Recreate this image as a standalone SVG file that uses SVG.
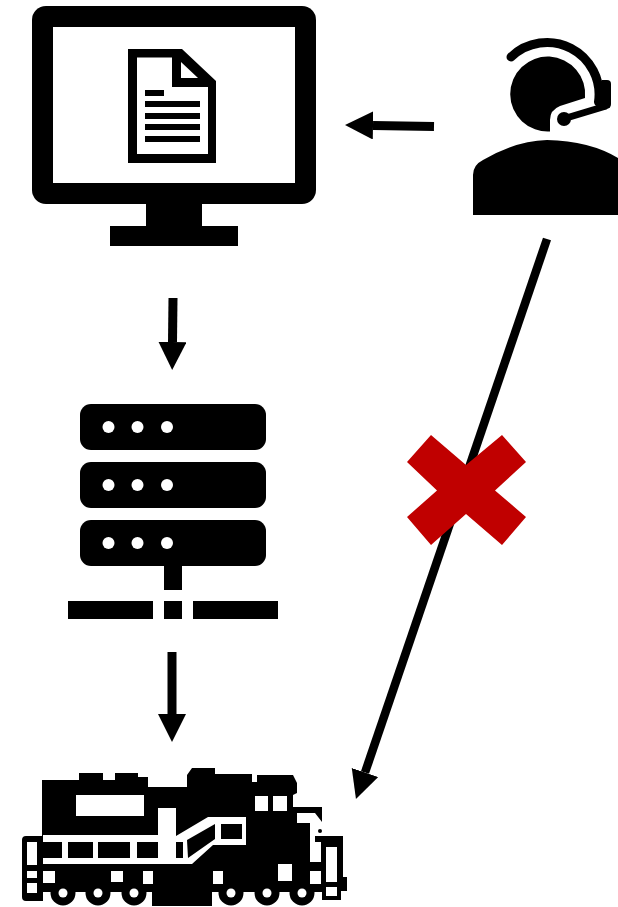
<svg xmlns="http://www.w3.org/2000/svg" width="618" height="907" viewBox="0 0 618 907">
<style>.k{fill:#000}.w{fill:#fff}.c{stroke:#000;stroke-width:9;fill:none;marker-end:url(#a)}</style>
<defs><marker id="a" markerUnits="userSpaceOnUse" markerWidth="30" markerHeight="30" refX="0" refY="14" orient="auto"><path d="M0,0L28,14L0,28Z" fill="#000"/></marker></defs>
<rect width="618" height="907" class="w"/>
<g id="connectors">
<path class="c" d="M434,126.500L373,125.500"/>
<path class="c" d="M173,298L172.500,342"/>
<path class="c" d="M172,652V714"/>
<path class="c" style="stroke-width:8.500" d="M547,239L365,772.500"/>
</g>
<g id="monitor">
<rect x="32" y="6" width="284" height="198" rx="14" class="k"/>
<rect x="53" y="27" width="242" height="156" class="w"/>
<path class="k" d="M146,204H202V226H238V246H110V226H146Z"/>
<path class="k" d="M128,49H182L216,81V163H128Z"/>
<path class="w" d="M137,57.500H172V87H208V154H137Z"/>
<path class="w" d="M181,62L198,78H181Z"/>
<path class="k" d="M145,90h19v6h-19zM145,101h55v6h-55zM145,113h55v6h-55zM145,124h55v6h-55zM145,136h55v6h-55z"/>
</g>
<g id="operator">
<path class="k" d="M585,98L560,106Q550,110 550,120V131.500A37.500,37.500 0 1 1 585,98Z"/>
<path d="M511,57A52,52 0 0 1 598.500,102" fill="none" stroke="#000" stroke-width="9" stroke-linecap="round"/>
<path class="k" d="M602,80H607Q611,80 611,84V104Q611,108 607,109L602,110Z"/>
<path d="M563,119L606,106" fill="none" stroke="#000" stroke-width="7"/>
<circle cx="564" cy="119" r="7" class="k"/>
<path class="k" d="M473,215V175Q473,165 483,160Q515,141 547,140Q590,141 618,158V215Z"/>
</g>
<g id="server">
<rect x="80" y="404" width="186" height="46" rx="11" class="k"/>
<rect x="80" y="462" width="186" height="46" rx="11" class="k"/>
<rect x="80" y="520" width="186" height="46" rx="11" class="k"/>
<g class="w"><circle cx="108.500" cy="427" r="6"/><circle cx="137.500" cy="427" r="6"/><circle cx="167" cy="427" r="6"/><circle cx="108.500" cy="485" r="6"/><circle cx="137.500" cy="485" r="6"/><circle cx="167" cy="485" r="6"/><circle cx="108.500" cy="543" r="6"/><circle cx="137.500" cy="543" r="6"/><circle cx="167" cy="543" r="6"/></g>
<path class="k" d="M164,566h18v24h-18zM164,601h18v18h-18zM68,601h85v18h-85zM193,601h85v18h-85z"/>
</g>
<g id="locomotive">
<path class="k" d="M22,840Q22,836 26,836H42V780H79V773H103V780H115V773H138V777H148V787H187V775L192,768H215V774H252V782H257V775H293L297,783V793L293,795V807H322V822L315,813H297V823H310V862H321V842H315V836H343V877H347V891H341V900H322V892H212V906H152V892H43V901H26Q22,901 22,897Z"/>
<g class="k"><circle cx="63" cy="893" r="12.500"/><circle cx="98" cy="893" r="12.500"/><circle cx="134" cy="893" r="12.500"/><circle cx="231" cy="893" r="12.500"/><circle cx="267" cy="893" r="12.500"/><circle cx="302" cy="893" r="12.500"/><circle cx="320" cy="831" r="2"/></g>
<g class="w">
<rect x="76" y="795" width="68" height="21"/>
<rect x="255" y="796" width="13" height="15"/><rect x="273" y="796" width="14" height="15"/>
<rect x="43" y="835" width="115" height="29"/>
<rect x="158" y="808" width="18" height="56"/>
<path d="M176,836L208,817H246V845H213L192,864H176Z"/>
<rect x="27" y="842" width="10" height="23"/><rect x="27" y="871" width="10" height="7"/><rect x="27" y="883" width="10" height="10"/>
<rect x="43" y="871" width="12" height="12"/><rect x="111" y="871" width="12" height="11"/><rect x="143" y="871" width="10" height="13"/><rect x="213" y="871" width="10" height="13"/><rect x="278" y="864" width="14" height="17"/><rect x="310" y="871" width="11" height="13"/>
<rect x="326" y="847" width="11" height="35"/><rect x="326" y="887" width="11" height="9"/>
<circle cx="63" cy="893" r="4.500"/><circle cx="98" cy="893" r="4.500"/><circle cx="134" cy="893" r="4.500"/><circle cx="231" cy="893" r="4.500"/><circle cx="267" cy="893" r="4.500"/><circle cx="302" cy="893" r="4.500"/>
</g>
<path class="k" d="M43,842h19v16h-19zM68,842h25v16h-25zM98,842h32v16h-32zM137,842h21v16h-21zM176,842h7v16h-7zM221,824h21v15h-21zM187,840L215,824V839L188,858Z"/>
</g>
<g id="cross"><path fill="#c00000" d="M431,435L466,465L502,435L526,462L495,490.500L526,517L502,545L466,514L431,545L407,517L437,490.500L407,462Z"/></g>
</svg>
